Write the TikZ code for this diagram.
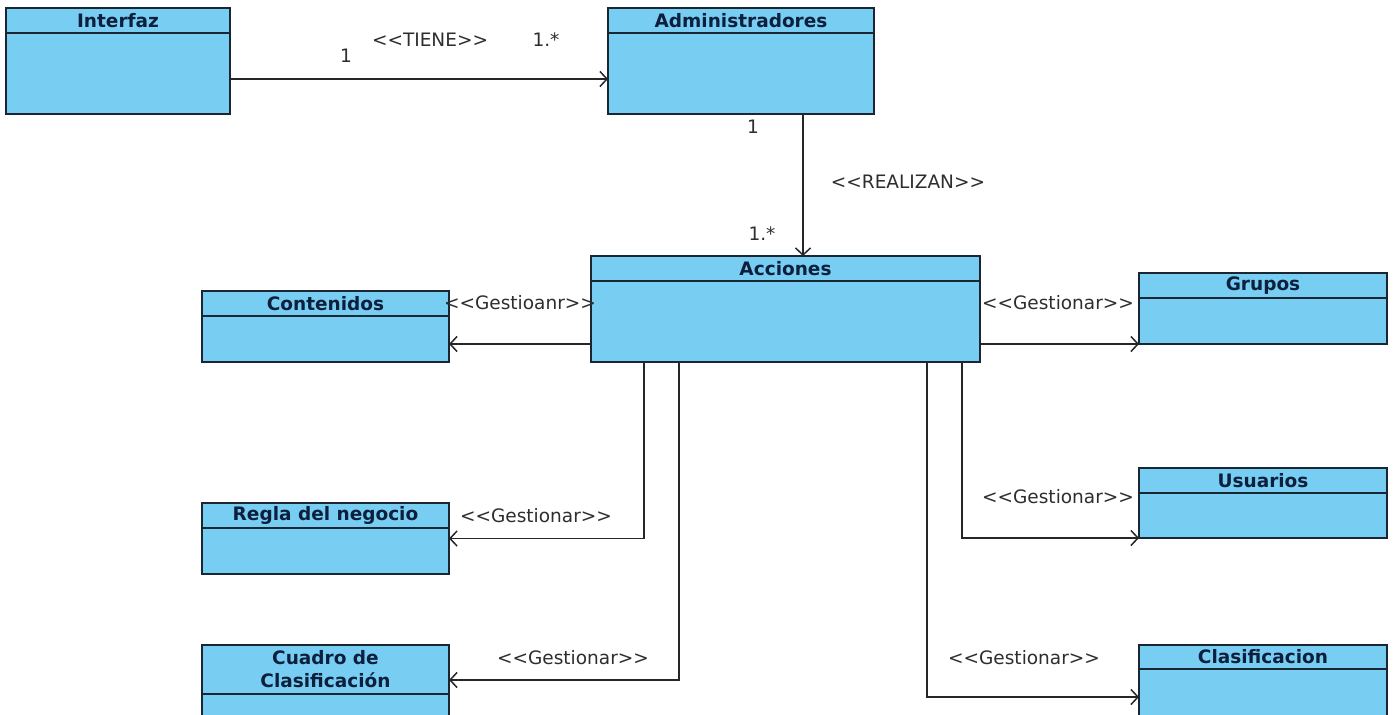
\documentclass[tikz,border=0pt]{standalone}
\usepackage{fontspec}
\setmainfont{DejaVu Sans}
\usetikzlibrary{arrows.meta}
\definecolor{clsfill}{HTML}{78CDF2}
\definecolor{clsline}{HTML}{1B2633}
\definecolor{clstext}{HTML}{0C1F3D}
\definecolor{lbltext}{HTML}{2E2E2E}
\begin{document}
\begin{tikzpicture}[x=1pt,y=-1pt,
  cls/.style={draw=clsline,fill=clsfill,line width=1.8pt,rectangle,inner sep=0pt,outer sep=0pt,anchor=north west},
  ttl/.style={text=clstext,font=\fontsize{18.5}{23}\selectfont\bfseries,inner sep=0pt,align=center},
  lbl/.style={text=lbltext,font=\fontsize{18.5}{22}\selectfont,inner sep=0pt},
  arr/.style={draw=black!85,line width=1.7pt,-{Straight Barb[length=7pt,width=15pt,line width=1.5pt]}}]
\useasboundingbox (0,0) rectangle (1393,715);
\clip (0,0) rectangle (1393,715);
\fill[white] (0,0) rectangle (1393,715);

% class boxes
\node[cls,minimum width=224pt,minimum height=106pt] (intf) at (6,8) {};
\node[cls,minimum width=266pt,minimum height=106pt] (admin) at (608,8) {};
\node[cls,minimum width=389pt,minimum height=106pt] (acc) at (591,256) {};
\node[cls,minimum width=247pt,minimum height=71pt] (cont) at (202,291) {};
\node[cls,minimum width=247pt,minimum height=71pt] (regla) at (202,503) {};
\node[cls,minimum width=247pt,minimum height=100pt] (cuadro) at (202,645) {};
\node[cls,minimum width=248pt,minimum height=71pt] (grupos) at (1139,273) {};
\node[cls,minimum width=248pt,minimum height=70pt] (usu) at (1139,468) {};
\node[cls,minimum width=248pt,minimum height=100pt] (clas) at (1139,645) {};

% header separators
\foreach \n/\h in {intf/25,admin/25,acc/25,cont/25,regla/25,cuadro/49,grupos/25,usu/25,clas/24}
  \draw[clsline,line width=1.6pt] ([yshift=-\h pt]\n.north west) -- ([yshift=-\h pt]\n.north east);

% class names
\node[ttl] (tintf) at ([yshift=-12.5pt]intf.north) {Interfaz};
\node[ttl] (tadmin) at ([yshift=-12.5pt]admin.north) {Administradores};
\node[ttl] (tacc) at ([yshift=-12.5pt]acc.north) {Acciones};
\node[ttl] (tcont) at ([yshift=-12.5pt]cont.north) {Contenidos};
\node[ttl] (tregla) at ([yshift=-12.5pt]regla.north) {Regla del negocio};
\node[ttl] (tcuadro) at ([yshift=-24.5pt]cuadro.north) {Cuadro de\\Clasificación};
\node[ttl] (tgrupos) at ([yshift=-12.5pt]grupos.north) {Grupos};
\node[ttl] (tusu) at ([yshift=-12.5pt]usu.north) {Usuarios};
\node[ttl] (tclas) at ([yshift=-12pt]clas.north) {Clasificacion};

% associations
\draw[arr] ([yshift=-18pt]intf.east) -- ([yshift=-18pt]intf.east -| admin.west);
\draw[arr] ([xshift=62pt]admin.south) -- ([xshift=62pt]admin.south |- acc.north);
\draw[arr] ([yshift=-35pt]acc.west) -- ([yshift=-35pt]acc.west -| cont.east);
\draw[arr] ([xshift=-141.5pt]acc.south) |- (regla.east);
\draw[arr] ([xshift=-106.5pt]acc.south) |- ([yshift=-35pt]cuadro.north east);
\draw[arr] ([yshift=-35pt]acc.east) -- (grupos.south west);
\draw[arr] ([xshift=176.5pt]acc.south) |- (usu.south west);
\draw[arr] ([xshift=141.5pt]acc.south) |- ([yshift=-52pt]clas.north west);

% association labels
\node[lbl] (m1) at (346,56) {1};
\node[lbl] (stiene) at (430,40) {<{}<TIENE>{}>};
\node[lbl] (m2) at (546,40) {1.*};
\node[lbl] (m3) at (753,127) {1};
\node[lbl] (sreal) at (908,182) {<{}<REALIZAN>{}>};
\node[lbl] (m4) at (762,234) {1.*};
\node[lbl] (scont) at (520,303) {<{}<Gestioanr>{}>};
\node[lbl] (sregla) at (536,516) {<{}<Gestionar>{}>};
\node[lbl] (scuadro) at (573,658) {<{}<Gestionar>{}>};
\node[lbl] (sgrupos) at (1058,303) {<{}<Gestionar>{}>};
\node[lbl] (susu) at (1058,497) {<{}<Gestionar>{}>};
\node[lbl] (sclas) at (1024,658) {<{}<Gestionar>{}>};
\end{tikzpicture}
\end{document}
